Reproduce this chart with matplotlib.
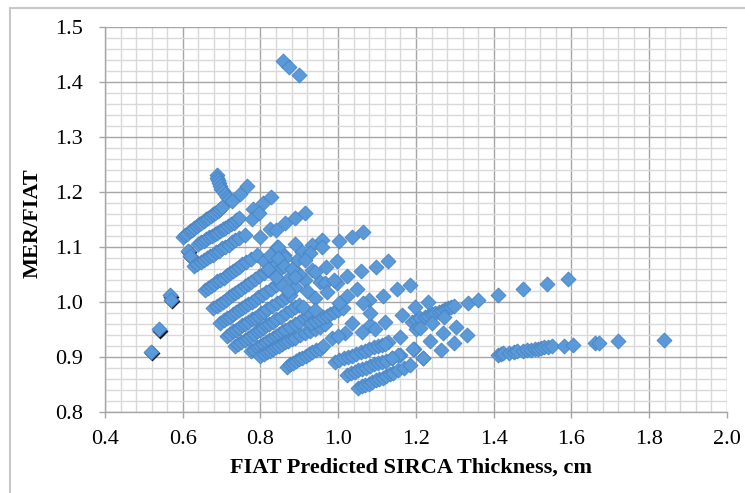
import numpy as np
import matplotlib.pyplot as plt
import matplotlib.transforms as mtransforms
from matplotlib.ticker import MultipleLocator

# ============================================================
# DATA
# ============================================================

# points drawn with a dark shadow on the far left
dark_x = [0.518, 0.540, 0.568, 0.571, 0.614, 0.618]
dark_y = [0.909, 0.950, 1.012, 1.004, 1.093, 1.084]

# three outliers near the top
out_x = [0.859, 0.874, 0.900]
out_y = [1.438, 1.428, 1.412]

# the hook at x ~ 0.69
hook_x = [0.687, 0.689, 0.691, 0.693, 0.696, 0.699, 0.703, 0.708, 0.714, 0.720, 0.726]
hook_y = [1.230, 1.226, 1.221, 1.216, 1.211, 1.206, 1.201, 1.196, 1.191, 1.187, 1.184]

# dense diagonal bands, top to bottom
band1_x = [0.600, 0.606, 0.612, 0.618, 0.624, 0.630, 0.636, 0.642, 0.648, 0.654,
           0.660, 0.666, 0.672, 0.678, 0.684, 0.690, 0.696, 0.700]
band1_y = [1.118, 1.121, 1.124, 1.128, 1.131, 1.134, 1.138, 1.141, 1.144, 1.147,
           1.150, 1.153, 1.156, 1.159, 1.162, 1.165, 1.169, 1.172]

band2_x = [0.640, 0.647, 0.654, 0.661, 0.668, 0.675, 0.682, 0.689, 0.696, 0.703,
           0.710, 0.717, 0.724, 0.731, 0.738, 0.745]
band2_y = [1.105, 1.108, 1.111, 1.114, 1.117, 1.120, 1.123, 1.126, 1.129, 1.132,
           1.135, 1.138, 1.141, 1.144, 1.148, 1.152]

band3_x = [0.630, 0.638, 0.646, 0.654, 0.662, 0.670, 0.678, 0.686, 0.694, 0.702,
           0.710, 0.718, 0.726, 0.735, 0.745, 0.760]
band3_y = [1.065, 1.069, 1.072, 1.076, 1.079, 1.083, 1.086, 1.090, 1.093, 1.097,
           1.100, 1.104, 1.108, 1.112, 1.116, 1.122]

band4_x = [0.657, 0.665, 0.673, 0.681, 0.689, 0.697, 0.705, 0.713, 0.721, 0.729,
           0.737, 0.745, 0.753, 0.762, 0.775, 0.790]
band4_y = [1.021, 1.025, 1.029, 1.033, 1.037, 1.040, 1.044, 1.048, 1.052, 1.056,
           1.060, 1.064, 1.068, 1.072, 1.078, 1.085]

band5_x = [0.679, 0.687, 0.695, 0.703, 0.711, 0.719, 0.727, 0.735, 0.743, 0.751,
           0.759, 0.767, 0.775, 0.785, 0.797, 0.808, 0.820]
band5_y = [0.988, 0.992, 0.996, 1.000, 1.004, 1.008, 1.012, 1.016, 1.020, 1.024,
           1.028, 1.032, 1.036, 1.041, 1.047, 1.052, 1.058]

band6_x = [0.697, 0.705, 0.713, 0.721, 0.729, 0.737, 0.745, 0.753, 0.761, 0.769,
           0.777, 0.785, 0.793, 0.803, 0.815, 0.828, 0.840, 0.850]
band6_y = [0.962, 0.966, 0.970, 0.973, 0.977, 0.981, 0.985, 0.989, 0.993, 0.996,
           1.000, 1.004, 1.008, 1.012, 1.018, 1.024, 1.030, 1.035]

band7_x = [0.713, 0.721, 0.729, 0.737, 0.745, 0.753, 0.761, 0.769, 0.777, 0.785,
           0.793, 0.801, 0.809, 0.818, 0.830, 0.843, 0.856, 0.866, 0.875]
band7_y = [0.938, 0.942, 0.946, 0.949, 0.953, 0.957, 0.960, 0.964, 0.968, 0.971,
           0.975, 0.979, 0.982, 0.986, 0.992, 0.998, 1.004, 1.008, 1.012]

band8_x = [0.735, 0.743, 0.751, 0.759, 0.767, 0.775, 0.783, 0.791, 0.799, 0.807,
           0.815, 0.823, 0.831, 0.840, 0.852, 0.865, 0.878, 0.890, 0.900]
band8_y = [0.920, 0.924, 0.927, 0.931, 0.935, 0.938, 0.942, 0.946, 0.949, 0.953,
           0.957, 0.960, 0.964, 0.968, 0.973, 0.979, 0.985, 0.990, 0.995]

band9_x = [0.775, 0.783, 0.791, 0.799, 0.807, 0.815, 0.823, 0.831, 0.839, 0.847,
           0.855, 0.864, 0.875, 0.888, 0.900, 0.912, 0.922, 0.930]
band9_y = [0.910, 0.913, 0.917, 0.920, 0.924, 0.927, 0.931, 0.934, 0.938, 0.941,
           0.945, 0.949, 0.954, 0.959, 0.964, 0.970, 0.974, 0.978]

band10_x = [0.800, 0.808, 0.816, 0.824, 0.832, 0.840, 0.848, 0.856, 0.864, 0.872,
            0.880, 0.890, 0.902, 0.915, 0.928, 0.940, 0.952, 0.965]
band10_y = [0.902, 0.905, 0.908, 0.911, 0.914, 0.917, 0.920, 0.923, 0.926, 0.929,
            0.932, 0.935, 0.939, 0.943, 0.947, 0.951, 0.955, 0.960]

band11_x = [0.868, 0.876, 0.884, 0.892, 0.900, 0.908, 0.916, 0.924, 0.932, 0.942,
            0.952, 0.962]
band11_y = [0.882, 0.886, 0.889, 0.892, 0.895, 0.898, 0.902, 0.905, 0.908, 0.912,
            0.915, 0.919]

band12_x = [0.930, 0.940, 0.950, 0.960, 0.970, 0.980, 0.990, 1.000, 1.012]
band12_y = [0.962, 0.965, 0.968, 0.972, 0.975, 0.978, 0.982, 0.985, 0.989]

# three lower-right bands
low1_x = [0.992, 1.003, 1.014, 1.025, 1.036, 1.047, 1.058, 1.069, 1.080, 1.091,
          1.102, 1.113, 1.129]
low1_y = [0.891, 0.894, 0.897, 0.899, 0.902, 0.905, 0.908, 0.911, 0.914, 0.917,
          0.920, 0.922, 0.927]

low2_x = [1.022, 1.032, 1.042, 1.052, 1.062, 1.072, 1.082, 1.092, 1.102, 1.112,
          1.122, 1.138, 1.159]
low2_y = [0.867, 0.870, 0.872, 0.875, 0.878, 0.880, 0.883, 0.886, 0.888, 0.891,
          0.893, 0.897, 0.903]

low3_x = [1.052, 1.061, 1.070, 1.079, 1.088, 1.097, 1.106, 1.115, 1.124, 1.133,
          1.142, 1.155, 1.168]
low3_y = [0.843, 0.846, 0.849, 0.851, 0.854, 0.857, 0.860, 0.862, 0.865, 0.868,
          0.871, 0.875, 0.879]

# band around x = 1.2 - 1.3
right_x = [1.189, 1.200, 1.211, 1.222, 1.232, 1.241, 1.250, 1.258, 1.266, 1.274,
           1.282, 1.290, 1.299]
right_y = [0.964, 0.966, 0.970, 0.972, 0.975, 0.977, 0.980, 0.982, 0.984, 0.986,
           0.988, 0.990, 0.992]

# long flat band on the far right
far_x = [1.412, 1.418, 1.425, 1.440, 1.452, 1.460, 1.475, 1.485, 1.495, 1.505,
         1.513, 1.522, 1.530, 1.540, 1.550, 1.580, 1.604, 1.660, 1.670, 1.720, 1.839]
far_y = [0.904, 0.905, 0.906, 0.907, 0.909, 0.910, 0.911, 0.912, 0.913, 0.914,
         0.915, 0.916, 0.917, 0.918, 0.919, 0.920, 0.922, 0.925, 0.925, 0.929, 0.930]

# scattered single points
sparse_x = [0.747, 0.766, 0.782, 0.806, 0.826, 0.778, 0.797, 0.799, 0.825, 0.840,
            0.863, 0.889, 0.915, 0.842, 0.889, 0.932, 0.958, 1.001, 1.035, 1.065,
            0.958, 0.906, 0.928, 0.893, 0.915, 0.969, 0.996, 1.097, 1.129, 1.058,
            1.022, 0.996, 0.932, 0.941, 0.915, 0.889, 0.953, 0.966, 0.988, 1.185,
            1.151, 1.116, 1.048, 1.078, 1.022, 1.001, 0.970, 0.941, 1.230, 1.198,
            1.164, 1.121, 1.082, 1.035, 1.065, 1.082, 1.018, 1.061, 1.159, 1.121,
            1.200, 1.194, 1.219, 1.192, 1.155, 1.138, 1.335, 1.359, 1.410, 1.475,
            1.537, 1.590, 1.271, 1.241, 1.211, 1.303, 1.269, 1.237, 1.331, 1.298,
            1.264, 1.218, 1.185, 0.985, 1.000, 1.095, 0.830, 0.860, 0.850, 0.875,
            0.900, 0.870, 0.920, 0.910, 0.940, 0.846, 0.863, 0.810, 0.825, 0.845,
            0.860, 0.820, 0.840, 0.880, 0.890]
sparse_y = [1.197, 1.210, 1.168, 1.179, 1.190, 1.150, 1.162, 1.118, 1.133, 1.130,
            1.143, 1.153, 1.162, 1.100, 1.105, 1.103, 1.113, 1.110, 1.118, 1.127,
            1.100, 1.091, 1.088, 1.076, 1.076, 1.064, 1.075, 1.064, 1.074, 1.056,
            1.047, 1.035, 1.058, 1.055, 1.040, 1.027, 1.036, 1.035, 1.040, 1.031,
            1.023, 1.010, 1.024, 1.003, 1.010, 0.997, 1.018, 1.006, 1.000, 0.990,
            0.976, 0.964, 0.958, 0.961, 0.997, 0.979, 0.943, 0.945, 0.936, 0.924,
            0.950, 0.915, 0.897, 0.914, 0.903, 0.897, 0.997, 1.003, 1.012, 1.024,
            1.033, 1.041, 0.973, 0.961, 0.952, 0.955, 0.943, 0.929, 0.939, 0.925,
            0.912, 0.897, 0.885, 0.935, 0.938, 0.950, 1.070, 1.085, 1.060, 1.045,
            1.050, 1.020, 1.020, 0.990, 0.985, 1.100, 1.080, 1.075, 1.085, 1.080,
            1.065, 1.060, 1.045, 1.060, 1.045]

# ============================================================
# PLOT
# ============================================================

plt.rcParams["font.family"] = ["Liberation Serif", "DejaVu Serif"]

fig = plt.figure(figsize=(7.45, 4.93), dpi=100)
ax = fig.add_axes([0.1409, 0.1649, 0.8349, 0.7803])

fill = "#5b9ad8"
edge = "#4a84c4"
size = 58

all_x = np.concatenate([band1_x, band2_x, band3_x, band4_x, band5_x, band6_x,
                        band7_x, band8_x, band9_x, band10_x, band11_x, band12_x,
                        low1_x, low2_x, low3_x, right_x, far_x, sparse_x,
                        hook_x, out_x])
all_y = np.concatenate([band1_y, band2_y, band3_y, band4_y, band5_y, band6_y,
                        band7_y, band8_y, band9_y, band10_y, band11_y, band12_y,
                        low1_y, low2_y, low3_y, right_y, far_y, sparse_y,
                        hook_y, out_y])

# dark shadow under the left points
shadow = ax.transData + mtransforms.ScaledTranslation(0.6 / 72, -1.2 / 72, fig.dpi_scale_trans)
ax.scatter(dark_x, dark_y, s=size * 1.15, marker="D", color="#1a1a1a", lw=0,
           transform=shadow, zorder=2)
ax.scatter(dark_x, dark_y, s=size, marker="D", facecolor=fill, edgecolor=edge,
           lw=0.6, zorder=3)

ax.scatter(all_x, all_y, s=size, marker="D", facecolor=fill, edgecolor=edge,
           lw=0.6, zorder=3)

ax.set_xlim(0.4, 2.0)
ax.set_ylim(0.8, 1.5)
ax.xaxis.set_major_locator(MultipleLocator(0.2))
ax.xaxis.set_minor_locator(MultipleLocator(0.04))
ax.yaxis.set_major_locator(MultipleLocator(0.1))
ax.yaxis.set_minor_locator(MultipleLocator(0.02))
ax.xaxis.set_major_formatter(plt.FormatStrFormatter("%.1f"))
ax.yaxis.set_major_formatter(plt.FormatStrFormatter("%.1f"))

ax.grid(which="minor", color="#d9d9d9", lw=1.0, zorder=0)
ax.grid(which="major", color="#a6a6a6", lw=1.0, zorder=0)
ax.set_axisbelow(True)

for side in ["top", "right"]:
    ax.spines[side].set_visible(False)
for side in ["left", "bottom"]:
    ax.spines[side].set_color("#a6a6a6")
    ax.spines[side].set_linewidth(1.0)

ax.tick_params(which="major", direction="out", length=4, width=1.0,
               color="#a6a6a6", labelsize=16)
ax.tick_params(axis="x", which="major", pad=9)
ax.tick_params(axis="y", which="major", pad=12)
ax.tick_params(which="minor", length=0)

ax.set_xlabel("FIAT Predicted SIRCA Thickness, cm", fontsize=16, fontweight="bold")
ax.set_ylabel("MER/FIAT", fontsize=16, fontweight="bold")
ax.xaxis.set_label_coords(0.492, -0.118)
ax.yaxis.set_label_coords(-0.10, 0.49)

# outer chart border (cut off on the right and bottom)
fig.add_artist(plt.Line2D([10 / 745, 1.0], [1 - 8 / 493, 1 - 8 / 493],
                          transform=fig.transFigure, color="#c8c8c8", lw=1.5))
fig.add_artist(plt.Line2D([10 / 745, 10 / 745], [0.0, 1 - 8 / 493],
                          transform=fig.transFigure, color="#c8c8c8", lw=1.5))

fig.savefig("out.png", dpi=100)
